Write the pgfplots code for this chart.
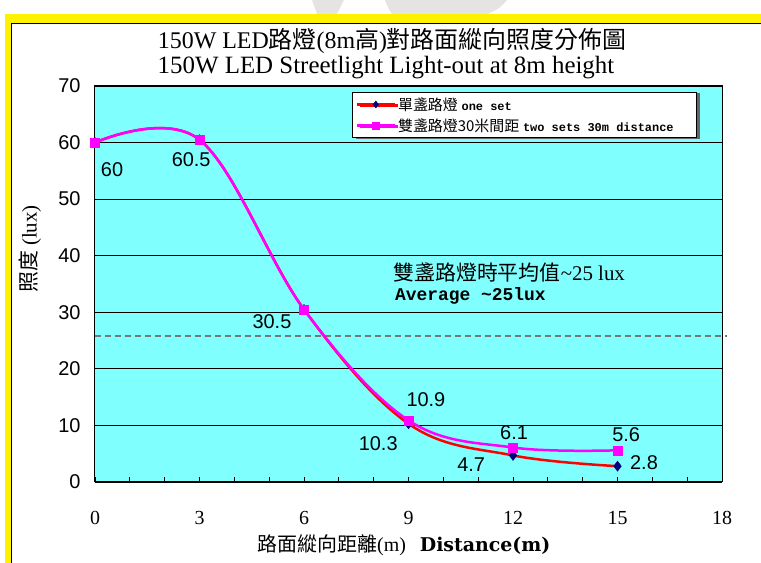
\documentclass[border=0pt]{standalone}
\usepackage{fontspec}
\usepackage{pgfplots}
\pgfplotsset{compat=1.18}
\usetikzlibrary{shadows}
\setmainfont{Liberation Serif}
\newfontfamily\cjk{Noto Sans CJK TC}
\newfontfamily\arial{Liberation Sans}
\newfontfamily\mono{Liberation Mono}
\newfontfamily\dserif{DejaVu Serif}
\newcommand{\fs}[1]{\fontsize{#1}{#1}\selectfont}
\DeclareRobustCommand{\legzh}[1]{{\cjk\fontsize{15}{15}\selectfont #1}}
\DeclareRobustCommand{\legen}[1]{{\mono\bfseries\fontsize{12}{12}\selectfont #1}}
\definecolor{plotbg}{RGB}{128,255,255}
\definecolor{navy}{RGB}{0,0,128}
\definecolor{pink}{RGB}{255,0,255}
\definecolor{pred}{RGB}{255,0,0}
\definecolor{dashgray}{RGB}{120,120,120}
\definecolor{wmark}{RGB}{228,228,228}

\begin{document}
\begin{tikzpicture}
% page frame, in pixels of the reference (origin = bottom left of the page)
\begin{scope}[x=1bp, y=1bp, shift={(-95,-81)}]
\useasboundingbox (0,0) rectangle (761,563);
\fill[white] (0,0) rectangle (761,563);
% faint watermark above the frame
\fill[wmark] (312,563) -- (344,563) -- (337,549) -- (317,549) -- cycle;
\fill[wmark] (385,563) -- (507,563) .. controls (500,555) .. (488,549) -- (392,549) .. controls (388,555) .. cycle;
\fill[yellow] (5,0) rectangle (761,549);
\fill[white] (11,0) rectangle (761,540);
\draw[black, line width=1bp] (11.5,0) -- (11.5,539.5) -- (761,539.5);
\end{scope}

\begin{axis}[
    scale only axis, width=627bp, height=396bp,
    xmin=0, xmax=18, ymin=0, ymax=70,
    xtick={0,3,...,18}, minor xtick={0,1,...,18},
    ytick={0,10,...,70},
    xtick pos=left, ytick pos=left,
    tick align=inside,
    major tick length=5bp, minor tick length=5bp,
    ytick style={draw=none},
    xtick style={black, line width=0.8bp},
    minor tick style={black, line width=0.8bp},
    axis background/.style={fill=plotbg},
    ymajorgrids, grid style={black, line width=0.8bp},
    axis line style={black, line width=1bp},
    /pgf/number format/assume math mode=true,
    xticklabel style={font=\fs{20}, yshift=-26bp},
    yticklabel style={font=\arial\fs{20}, xshift=-11bp},
    clip=false,
    legend style={at={(0.41,0.985)}, anchor=north west, draw=black,
        line width=1bp, fill=white, inner xsep=3bp, inner ysep=3bp, row sep=3bp,
        font=\fontsize{15}{15}\selectfont,
        drop shadow={shadow xshift=3bp, shadow yshift=-1bp, fill=black!60, opacity=1}},
    legend cell align=left,
    legend image code/.code={\draw[#1, mark repeat=2, mark phase=2, mark size=3.5bp]
        plot coordinates {(0bp,0bp) (19bp,0bp) (38bp,0bp)};},
]

% average line
\addplot[dashgray, line width=2bp, dash pattern=on 6bp off 4bp, forget plot]
    coordinates {(0,25.8) (18.15,25.8)};

% one lamp
\addplot[pred, line width=2.5bp, smooth, tension=0.6, mark=diamond*, mark size=5bp,
    mark options={fill=navy, draw=navy, line width=0.5bp, solid}]
    coordinates {(0,60) (3,60.5) (6,30.5) (9,10.3) (12,4.7) (15,2.8)};
\addlegendentry{\legzh{單盞路燈}\ \legen{one set}}

% two lamps, 30 m apart
\addplot[pink, line width=2.5bp, smooth, tension=0.6, mark=square*, mark size=4.5bp,
    mark options={fill=pink, draw=pink, line width=0.5bp, solid}]
    coordinates {(0,60) (3,60.5) (6,30.5) (9,10.9) (12,6.1) (15,5.6)};
\addlegendentry{\legzh{雙盞路燈30米間距}\ \legen{two sets 30m distance}\rule{18bp}{0pt}}

% data labels
\node[font=\arial\fs{20}] at (axis cs:0.49,55.2) {60};
\node[font=\arial\fs{20}] at (axis cs:2.76,56.9) {60.5};
\node[font=\arial\fs{20}] at (axis cs:5.08,28.3) {30.5};
\node[font=\arial\fs{20}] at (axis cs:9.50,14.5) {10.9};
\node[font=\arial\fs{20}] at (axis cs:8.13,6.7) {10.3};
\node[font=\arial\fs{20}] at (axis cs:12.03,8.66) {6.1};
\node[font=\arial\fs{20}] at (axis cs:10.80,3.0) {4.7};
\node[font=\arial\fs{20}] at (axis cs:15.25,8.3) {5.6};
\node[font=\arial\fs{20}] at (axis cs:15.76,3.36) {2.8};

% average annotation
\node[anchor=west, inner sep=0] at (axis cs:8.56,37.1)
    {{\cjk\fs{21}雙盞路燈時平均值}{\fs{21}\textasciitilde 25 lux}};
\node[anchor=west, inner sep=0] at (axis cs:8.61,32.9)
    {\mono\bfseries\fs{18}Average \textasciitilde25lux};
\end{axis}

\begin{scope}[x=1bp, y=1bp, shift={(-95,-81)}]
% titles
\node[font=\fs{24}] at (392,522) {150W LED{\cjk 路燈}(8m{\cjk 高}){\cjk 對路面縱向照度分佈圖}};
\node[font=\fs{25}] at (386,495) {150W LED Streetlight Light-out at 8m height};
% axis titles
\node[rotate=90] at (30,314) {{\cjk\fs{21}照度}\fs{21} (lux)};
\node at (404,18) {{\cjk\fs{20}路面縱向距離}{\fs{20}(m)}\hspace{14bp}{\dserif\bfseries\fs{19}Distance(m)}};
\end{scope}
\end{tikzpicture}
\end{document}
